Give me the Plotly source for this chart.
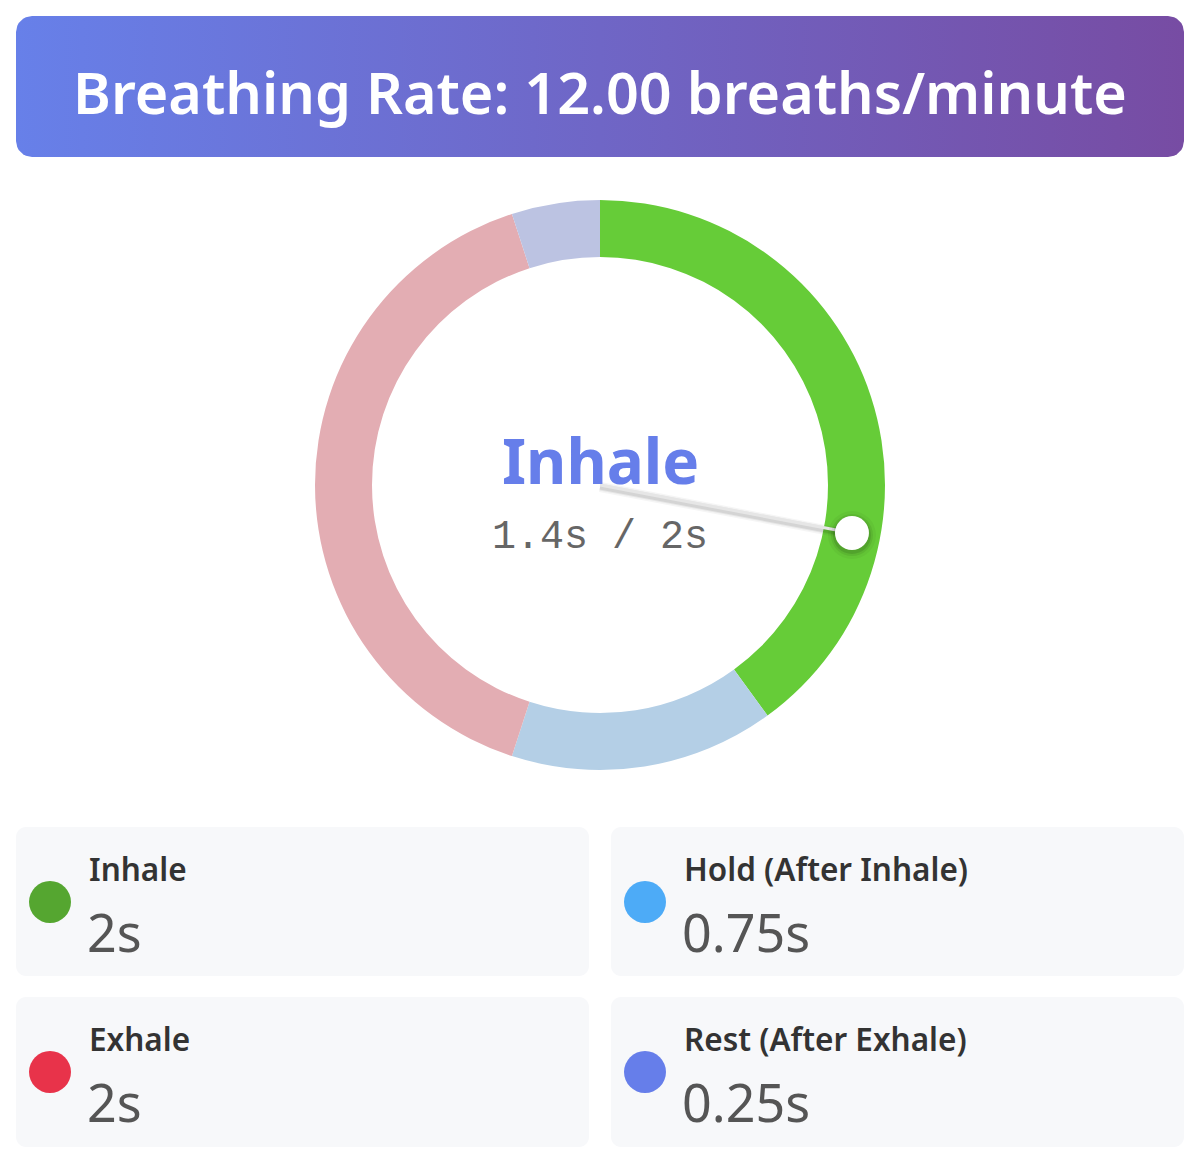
import math
import plotly.graph_objects as go

# breathing pattern data
phases = ["Inhale", "Hold (After Inhale)", "Exhale", "Rest (After Exhale)"]
durations = [2, 0.75, 2, 0.25]
value_labels = ["2s", "0.75s", "2s", "0.25s"]
ring_colors = ["#66cc38", "#b4cfe6", "#e3adb3", "#bcc3e2"]
dot_colors = ["#55a630", "#4dabf7", "#e8334a", "#667eea"]
rate = 12.00
current_phase = "Inhale"
elapsed = 1.4

W, H = 1199, 1163
OFF = 8  # page body margin
FW, FH = W - 2 * OFF, H - 2 * OFF
cx, cy, r_out, r_in = 600, 485, 285, 228


def rounded_rect(x0, y0, x1, y1, rad, n=8):
    xs, ys = [], []
    corners = [(x1 - rad, y0 + rad, -90, 0), (x1 - rad, y1 - rad, 0, 90),
               (x0 + rad, y1 - rad, 90, 180), (x0 + rad, y0 + rad, 180, 270)]
    for ccx, ccy, a0, a1 in corners:
        for i in range(n + 1):
            a = math.radians(a0 + (a1 - a0) * i / n)
            xs.append(ccx + rad * math.cos(a))
            ys.append(ccy + rad * math.sin(a))
    xs.append(xs[0]); ys.append(ys[0])
    return xs, ys


def rr_path(x0, y0, x1, y1, rad):
    xs, ys = rounded_rect(x0, y0, x1, y1, rad)
    return "M " + " L ".join(f"{a:.1f},{b:.1f}" for a, b in zip(xs, ys)) + " Z"


fig = go.Figure()

# header with gradient
hx, hy = rounded_rect(16, 16, 1184, 157, 16)
fig.add_trace(go.Scatter(x=hx, y=hy, mode="lines", fill="toself", line=dict(width=0),
                         fillgradient=dict(type="horizontal",
                                           colorscale=[[0, "#6780e9"], [1, "#774ca3"]]),
                         hoverinfo="skip", showlegend=False))

# donut
fig.add_trace(go.Pie(values=durations, labels=phases, sort=False, direction="clockwise",
                     rotation=0, hole=r_in / r_out, textinfo="none",
                     marker=dict(colors=ring_colors, line=dict(width=0)),
                     domain=dict(x=[(cx - OFF - r_out) / FW, (cx - OFF + r_out) / FW],
                                 y=[1 - (cy - OFF + r_out) / FH, 1 - (cy - OFF - r_out) / FH]),
                     showlegend=False, hoverinfo="label+value"))

shapes = []
# needle
idx = phases.index(current_phase)
t = sum(durations[:idx]) + elapsed
ang = math.radians(t / sum(durations) * 360)
r_mid = (r_out + r_in) / 2
ex, ey = cx + r_mid * math.sin(ang), cy - r_mid * math.cos(ang)
for w, op in [(10, 0.04), (7, 0.06), (5, 0.08)]:
    shapes.append(dict(type="line", x0=cx, y0=cy + 2, x1=ex, y1=ey + 2, layer="above",
                       line=dict(color=f"rgba(0,0,0,{op})", width=w)))
shapes.append(dict(type="line", x0=cx, y0=cy, x1=ex, y1=ey, layer="above",
                   line=dict(color="#e6e6e6", width=3)))
for rr, op in [(24, 0.04), (21, 0.07), (19, 0.1)]:
    shapes.append(dict(type="circle", x0=ex - rr, x1=ex + rr, y0=ey - rr + 2, y1=ey + rr + 2,
                       layer="above", line=dict(width=0), fillcolor=f"rgba(0,0,0,{op})"))
shapes.append(dict(type="circle", x0=ex - 17, x1=ex + 17, y0=ey - 17, y1=ey + 17,
                   layer="above", line=dict(width=0), fillcolor="white"))

annotations = [
    dict(x=600, y=92, text=f"Breathing Rate: {rate:.2f} breaths/minute", showarrow=False,
         font=dict(family="Noto Sans", size=57.5, color="white", weight=600)),
    dict(x=600, y=460, text=current_phase, showarrow=False,
         font=dict(family="Noto Sans", size=62, color="#667eea", weight="bold")),
    dict(x=600, y=537, text=f"{elapsed}s / {durations[idx]:g}s", showarrow=False,
         font=dict(family="Liberation Mono", size=40, color="#666666")),
]

# legend cards
card_x = [(16, 589), (611, 1184)]
card_y = [(827, 976), (997, 1147)]
for i, (name, val) in enumerate(zip(phases, value_labels)):
    x0, x1 = card_x[i % 2]
    y0, y1 = card_y[i // 2]
    shapes.append(dict(type="path", path=rr_path(x0, y0, x1, y1, 10), layer="below",
                       fillcolor="#f7f8fa", line=dict(width=0)))
    dx = x0 + 34
    dy = y0 + 75
    shapes.append(dict(type="circle", x0=dx - 21, x1=dx + 21, y0=dy - 21, y1=dy + 21,
                       fillcolor=dot_colors[i], line=dict(width=0), layer="below"))
    annotations.append(dict(x=x0 + 71, y=y0 + 41, text=name, showarrow=False, xanchor="left",
                            font=dict(family="Noto Sans", size=31.5, color="#333333", weight=600)))
    annotations.append(dict(x=x0 + 69, y=y0 + 104, text=val, showarrow=False, xanchor="left",
                            font=dict(family="Noto Sans", size=52, color="#555555")))

fig.update_layout(
    width=FW, height=FH, margin=dict(l=0, r=0, t=0, b=0),
    paper_bgcolor="white", plot_bgcolor="white",
    xaxis=dict(range=[OFF, OFF + FW], visible=False, fixedrange=True),
    yaxis=dict(range=[OFF + FH, OFF], visible=False, fixedrange=True),
    shapes=shapes, annotations=annotations,
)

fig.write_html("out.html")
